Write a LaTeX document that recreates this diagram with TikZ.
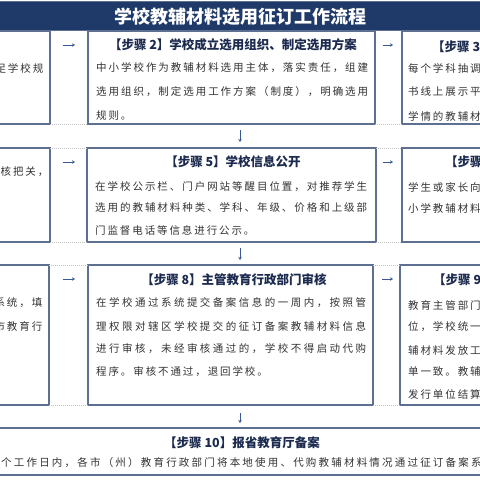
\documentclass[tikz,border=0pt]{standalone}
\usepackage{fontspec}
\setmainfont{Noto Sans CJK SC}
\usetikzlibrary{arrows.meta}
\definecolor{navy}{HTML}{1F3A68}
\definecolor{boxline}{HTML}{5E7092}
\definecolor{ttl}{HTML}{1B2A4E}
\definecolor{bodytx}{HTML}{333333}
\definecolor{arrowc}{HTML}{3A5894}
\definecolor{gapc}{HTML}{C4C4C4}
\newlength\cgap
\setlength\cgap{1.9pt}
\def\jfirst#1{#1\jrest}
\def\jrest#1{\ifx\relax#1\else\hskip 0pt plus 1fil\relax#1\expandafter\jrest\fi}
\def\gfirst#1{#1\grest}
\def\grest#1{\ifx\relax#1\else\hskip\cgap\relax#1\expandafter\grest\fi}
\newcommand\jline[2]{\makebox[#1][s]{\jfirst#2\relax}}
\newcommand\gline[1]{\gfirst#1\relax}
\begin{document}
\begin{tikzpicture}[x=1pt,y=-1pt,
 box/.style={draw=boxline,line width=1.2pt,fill=white,inner sep=0pt,outer sep=0pt,anchor=north west},
 body/.style={font=\fontsize{10.5}{12}\selectfont,text=bodytx,inner sep=0pt},
 steptitle/.style={font=\fontsize{12.5}{14}\selectfont\bfseries,text=ttl,inner sep=0pt},
 arr/.style={draw=arrowc,line width=0.8pt,-{Stealth[length=3pt,width=3.5pt]}},
 gapline/.style={draw=gapc,line width=0.5pt,dash pattern=on 1pt off 1pt}]
\useasboundingbox (0,0) rectangle (480,480);
\fill[white] (0,0) rectangle (480,480);
\clip (0,0) rectangle (480,480);
% title bar
\node[fill=navy,draw=boxline,line width=0.8pt,minimum width=484pt,minimum height=29pt,anchor=north west,inner sep=0pt,outer sep=0pt] (title) at (-2,1) {};
\node[font=\fontsize{18}{20}\selectfont\bfseries,text=white,inner sep=0pt] (titletext) at (240,17) {学校教辅材料选用征订工作流程};
% boxes
\node[box,minimum width=150pt,minimum height=93pt] (s1) at (-100,31) {};
\node[box,minimum width=287pt,minimum height=93pt] (s2) at (88,31) {};
\node[box,minimum width=200pt,minimum height=93pt] (s3) at (402,31) {};
\node[box,minimum width=150pt,minimum height=94pt] (s4) at (-100,148) {};
\node[box,minimum width=289pt,minimum height=94pt] (s5) at (87,148) {};
\node[box,minimum width=200pt,minimum height=94pt] (s6) at (402,148) {};
\node[box,minimum width=149pt,minimum height=140pt] (s7) at (-100,265) {};
\node[box,minimum width=285pt,minimum height=140pt] (s8) at (88,265) {};
\node[box,minimum width=200pt,minimum height=140pt] (s9) at (400,265) {};
\node[box,minimum width=484pt,minimum height=47pt] (s10) at (-2,428) {};
% gap lines
\draw[gapline] (s1.south east) -- (s2.south west);
\draw[gapline] (s2.south east) -- (s3.south west);
\draw[gapline] (s4.north east) -- (s5.north west);
\draw[gapline] (s5.north east) -- (s6.north west);
\draw[gapline] (s4.south east) -- (s5.south west);
\draw[gapline] (s5.south east) -- (s6.south west);
\draw[gapline] (s7.north east) -- (s8.north west);
\draw[gapline] (s8.north east) -- (s9.north west);
\draw[gapline] (s7.south east) -- (s8.south west);
\draw[gapline] (s8.south east) -- (s9.south west);
% row 1 texts
\node[body,anchor=east] (t1a) at (43.5,68) {\gline{足学校规}};
\node[steptitle] (h2) at (233,45) {【步骤 2】学校成立选用组织、制定选用方案};
\node[body,anchor=west] (t2a) at (96,68) {\jline{272pt}{中小学校作为教辅材料选用主体，落实责任，组建}};
\node[body,anchor=west] (t2b) at (96,92) {\jline{272pt}{选用组织，制定选用工作方案（制度），明确选用}};
\node[body,anchor=west] (t2c) at (96,116) {\gline{规则。}};
\node[steptitle,anchor=west] (h3) at (432,47) {【步骤 3】};
\node[body,anchor=west] (t3a) at (408,68) {\gline{每个学科抽调}};
\node[body,anchor=west] (t3b) at (408,92) {\gline{书线上展示平}};
\node[body,anchor=west] (t3c) at (408,116) {\gline{学情的教辅材}};
% row 2 texts
\node[body,anchor=west] (t4a) at (0.5,172) {\gline{核把关，}};
\node[steptitle] (h5) at (233,162) {【步骤 5】学校信息公开};
\node[body,anchor=west] (t5a) at (95,187) {\jline{272pt}{在学校公示栏、门户网站等醒目位置，对推荐学生}};
\node[body,anchor=west] (t5b) at (95,208) {\jline{272pt}{选用的教辅材料种类、学科、年级、价格和上级部}};
\node[body,anchor=west] (t5c) at (95,230) {\gline{门监督电话等信息进行公示。}};
\node[steptitle,anchor=west] (h6) at (445,162) {【步骤};
\node[body,anchor=west] (t6a) at (408,187) {\gline{学生或家长向}};
\node[body,anchor=west] (t6b) at (408,208) {\gline{小学教辅材料}};
% row 3 texts
\node[body,anchor=east] (t7a) at (42.5,303) {\gline{系统，填}};
\node[body,anchor=east] (t7b) at (42.5,326) {\gline{市教育行}};
\node[steptitle] (h8) at (234,280) {【步骤 8】主管教育行政部门审核};
\node[body,anchor=west] (t8a) at (96,303) {\jline{270pt}{在学校通过系统提交备案信息的一周内，按照管}};
\node[body,anchor=west] (t8b) at (96,326) {\jline{270pt}{理权限对辖区学校提交的征订备案教辅材料信息}};
\node[body,anchor=west] (t8c) at (96,349) {\jline{270pt}{进行审核，未经审核通过的，学校不得启动代购}};
\node[body,anchor=west] (t8d) at (96,372) {\gline{程序。审核不通过，退回学校。}};
\node[steptitle,anchor=west] (h9) at (433,280) {【步骤 9】};
\node[body,anchor=west] (t9a) at (408,305) {\gline{教育主管部门}};
\node[body,anchor=west] (t9b) at (408,327) {\gline{位，学校统一}};
\node[body,anchor=west] (t9c) at (408,350) {\gline{辅材料发放工}};
\node[body,anchor=west] (t9d) at (408,372) {\gline{单一致。教辅}};
\node[body,anchor=west] (t9e) at (408,394) {\gline{发行单位结算}};
% row 4
\node[steptitle] (h10) at (242,443) {【步骤 10】报省教育厅备案};
\node[body,anchor=west] (t10) at (1,463) {\setlength\cgap{2.2pt}\gline{个工作日内，各市（州）教育行政部门将本地使用、代购教辅材料情况通过征订备案系}};
% horizontal arrows
\draw[arr] ([xshift=13pt,yshift=-14pt]s1.north east) -- ([xshift=-13pt,yshift=-14pt]s2.north west);
\draw[arr] ([xshift=8pt,yshift=-14pt]s2.north east) -- ([xshift=-9pt,yshift=-14pt]s3.north west);
\draw[arr] ([xshift=13pt,yshift=-14pt]s4.north east) -- ([xshift=-12pt,yshift=-14pt]s5.north west);
\draw[arr] ([xshift=7pt,yshift=-14pt]s5.north east) -- ([xshift=-9pt,yshift=-14pt]s6.north west);
\draw[arr] ([xshift=14pt,yshift=-14pt]s7.north east) -- ([xshift=-13pt,yshift=-14pt]s8.north west);
\draw[arr] ([xshift=9pt,yshift=-14pt]s8.north east) -- ([xshift=-7pt,yshift=-14pt]s9.north west);
% vertical arrows
\path (s2.south -| s10.north) ++(0,6) coordinate (d1a);
\path (s5.north -| s10.north) ++(0,-6) coordinate (d1b);
\path (s5.south -| s10.north) ++(0,6) coordinate (d2a);
\path (s8.north -| s10.north) ++(0,-5) coordinate (d2b);
\path (s8.south -| s10.north) ++(0,8) coordinate (d3a);
\path (s10.north) ++(0,-5) coordinate (d3b);
\draw[arr] (d1a) -- (d1b);
\draw[arr] (d2a) -- (d2b);
\draw[arr] (d3a) -- (d3b);
\end{tikzpicture}
\end{document}
